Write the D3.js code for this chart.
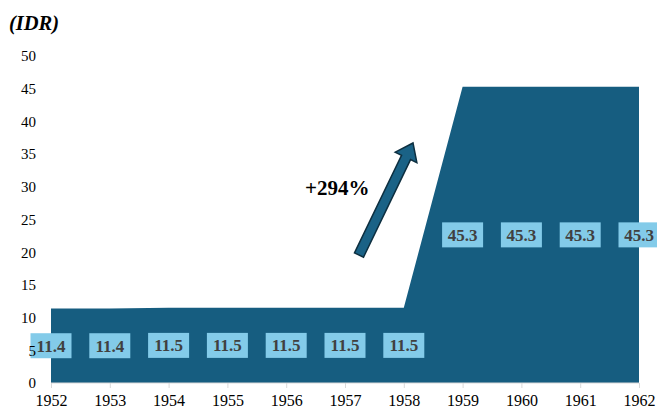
<!DOCTYPE html>
<html>
<head>
<meta charset="utf-8">
<script src="https://cdn.jsdelivr.net/npm/d3@7"></script>
<style>
  html, body { margin: 0; padding: 0; background: #ffffff; }
  svg { display: block; }
</style>
</head>
<body>
<svg id="chart" width="657" height="415"></svg>
<script>
// Annual values (IDR), 1952–1962
const years = [1952, 1953, 1954, 1955, 1956, 1957, 1958, 1959, 1960, 1961, 1962];
const values = [11.4, 11.4, 11.5, 11.5, 11.5, 11.5, 11.5, 45.3, 45.3, 45.3, 45.3];
const yTicks = [0, 5, 10, 15, 20, 25, 30, 35, 40, 45, 50];
const unitLabel = "(IDR)";
const changeLabel = "+294%";

const svg = d3.select("#chart");
const serif = '"Liberation Serif"';

const x = d3.scaleLinear().domain([1952, 1962]).range([51, 639]);
const y = d3.scaleLinear().domain([0, 50]).range([383, 56]);

const data = years.map((yr, i) => ({ year: yr, value: values[i] }));

// Filled area
const area = d3.area()
  .x(d => x(d.year))
  .y0(y(0))
  .y1(d => y(d.value));

svg.append("path")
  .datum(data)
  .attr("d", area)
  .attr("fill", "#165d80");

// X axis
const xAxis = d3.axisBottom(x).tickValues(years).tickFormat(d3.format("d")).tickSize(5).tickPadding(7);
const xg = svg.append("g").attr("transform", `translate(0,${y(0)})`).call(xAxis);
xg.attr("font-family", null).attr("font-size", null);
xg.select(".domain").attr("stroke", "#d9d9d9").attr("d", `M${x(1952)},0H${x(1962)}`);
xg.selectAll(".tick line").attr("stroke", "#d9d9d9");
xg.selectAll("text")
  .style("font-family", serif)
  .style("font-size", "16px")
  .attr("fill", "#000");

// Value labels at the middle of each column
const lab = svg.append("g").selectAll("g")
  .data(data)
  .join("g")
  .attr("transform", d => `translate(${x(d.year)},${y(d.value / 2)})`);

lab.append("rect")
  .attr("x", -20.5)
  .attr("y", -12.5)
  .attr("width", 41)
  .attr("height", 25)
  .attr("fill", "#83cbe9");

lab.append("text")
  .attr("text-anchor", "middle")
  .attr("dy", "0.35em")
  .style("font-family", serif)
  .style("font-weight", "bold")
  .style("font-size", "17px")
  .attr("fill", "#404040")
  .text(d => d3.format(".1f")(d.value));

// Y axis (labels only), drawn above the value labels
const yAxis = d3.axisLeft(y).tickValues(yTicks).tickSize(0).tickPadding(0);
const yg = svg.append("g").attr("transform", "translate(36,0)").call(yAxis);
yg.attr("font-family", null).attr("font-size", null);
yg.select(".domain").remove();
yg.selectAll("text")
  .style("font-family", serif)
  .style("font-size", "15px")
  .attr("fill", "#000");

// Unit label
svg.append("text")
  .attr("x", 9)
  .attr("y", 30)
  .style("font-family", serif)
  .style("font-weight", "bold")
  .style("font-style", "italic")
  .style("font-size", "20.5px")
  .attr("fill", "#000")
  .text(unitLabel);

// Growth arrow
const tail = [359, 255];
const tip = [413, 143];
const dx = tip[0] - tail[0], dy = tip[1] - tail[1];
const len = Math.hypot(dx, dy);
const ang = Math.atan2(dy, dx) * 180 / Math.PI;
const sw = 5, hw = 12, hl = 16;
svg.append("path")
  .attr("transform", `translate(${tail[0]},${tail[1]}) rotate(${ang})`)
  .attr("d", `M0,${-sw}L${len - hl},${-sw}L${len - hl},${-hw}L${len},0L${len - hl},${hw}L${len - hl},${sw}L0,${sw}Z`)
  .attr("fill", "#1a6286")
  .attr("stroke", "#0d2f40")
  .attr("stroke-width", 1.5);

svg.append("text")
  .attr("x", 305)
  .attr("y", 195)
  .style("font-family", serif)
  .style("font-weight", "bold")
  .style("font-size", "21px")
  .attr("fill", "#000")
  .text(changeLabel);
</script>
</body>
</html>
